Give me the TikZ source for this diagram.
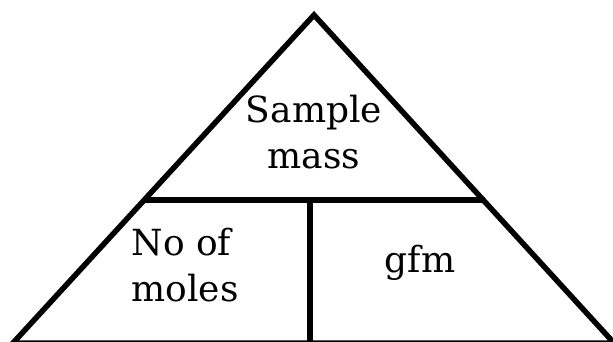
\documentclass[tikz,border=0pt]{standalone}
\usepackage{fontspec}
\setmainfont{DejaVu Serif}
\begin{document}
\begin{tikzpicture}[x=1pt, y=-1pt,
  edge/.style={line width=5.5pt, line join=miter},
  word/.style={font=\fontsize{36}{46}\selectfont, align=center}
]
\useasboundingbox (0,0) rectangle (613,341);
\clip (0,0) rectangle (613,341);
\coordinate (top) at (314,15);
\coordinate (bl) at (13,343);
\coordinate (br) at (614,343);
\coordinate (ml) at (143,200);
\coordinate (mr) at (485,200);
\coordinate (mid) at (310,200);
\coordinate (midb) at (310,343);
\draw[edge] (top) -- (bl) -- (br) -- cycle;
\draw[edge] (ml) -- (mr);
\draw[edge] (mid) -- (midb);
\node[word] (sample) at (314,132) {Sample\\mass};
\node[word, align=left, anchor=west] (moles) at (128,265) {No of\\moles};
\node[word] (gfm) at (420,263) {gfm};
\end{tikzpicture}
\end{document}
